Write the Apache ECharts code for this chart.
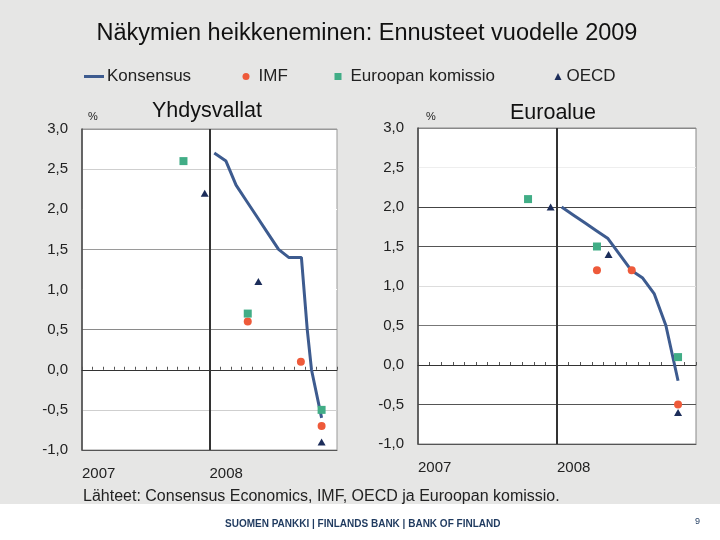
<!DOCTYPE html>
<html><head><meta charset="utf-8">
<script src="https://cdn.jsdelivr.net/npm/echarts@6/dist/echarts.min.js"></script>
<style>html,body{margin:0;padding:0;background:#e6e6e5}#c{width:720px;height:540px}</style>
</head><body><div id="c"></div>
<script>
// ---- text ----
const mainTitle = 'Näkymien heikkeneminen: Ennusteet vuodelle 2009';
const panelTitles = ['Yhdysvallat', 'Euroalue'];
const seriesNames = ['Konsensus', 'IMF', 'Euroopan komissio', 'OECD'];
const yearLabels = ['2007', '2008'];          // at month 0 and month 12
const sourceText = 'Lähteet: Consensus Economics, IMF, OECD ja Euroopan komissio.';
const footerText = 'SUOMEN PANKKI | FINLANDS BANK | BANK OF FINLAND';
const pageNumber = '9';

// ---- axes (x = months since Jan 2007) ----
const xMin = 0, xMax = 24, xYearStep = 12;
const yMin = -1, yMax = 3, yStep = 0.5;

// ---- data: [month, %] ----
const usConsensus = [[12.45,2.7],[13.55,2.6],[14.5,2.3],[15.5,2.1],[16.5,1.9],[17.5,1.7],[18.5,1.5],[19.45,1.4],[20.65,1.4],[21.2,0.5],[21.6,0.0],[22.55,-0.6]];
const usIMF  = [[15.6,0.6],[20.6,0.1],[22.55,-0.7]];
const usEC   = [[9.55,2.6],[15.6,0.7],[22.55,-0.5]];
const usOECD = [[11.55,2.2],[16.6,1.1],[22.55,-0.9]];

const euConsensus = [[12.4,2.0],[13.4,1.9],[14.4,1.8],[15.4,1.7],[16.4,1.6],[17.4,1.4],[18.4,1.2],[19.4,1.1],[20.4,0.9],[21.4,0.5],[22.45,-0.2]];
const euIMF  = [[15.45,1.2],[18.45,1.2],[22.45,-0.5]];
const euEC   = [[9.5,2.1],[15.45,1.5],[22.45,0.1]];
const euOECD = [[11.45,2.0],[16.45,1.4],[22.45,-0.6]];

const colLine = '#3d5b8f', colIMF = '#ee5a3a', colEC = '#41ad86', colOECD = '#1c2d5a';
const FONT = 'Liberation Sans, Arial, sans-serif';

const chart = echarts.init(document.getElementById('c'), null, {renderer: 'canvas'});

const fmtY = v => v.toFixed(1).replace('.', ',');
const fmtX = v => (v % xYearStep === 0 && yearLabels[v / xYearStep]) ? yearLabels[v / xYearStep] : '';

function xAxes(g) {
  return [
    {gridIndex: g, type: 'value', min: xMin, max: xMax, interval: xYearStep, position: 'bottom',
     axisLine: {onZero: false, lineStyle: {color: '#555', width: 1}}, axisTick: {show: false},
     splitLine: {show: false},
     axisLabel: {formatter: fmtX, align: 'left', margin: 16, fontSize: 15, color: '#222', fontFamily: FONT, showMaxLabel: false}},
    {gridIndex: g, type: 'value', min: xMin, max: xMax, interval: 1, position: 'bottom',
     axisLine: {onZero: true, lineStyle: {color: '#333', width: 1}},
     axisTick: {show: true, inside: true, length: 3, lineStyle: {color: '#555'}},
     axisLabel: {show: false}, splitLine: {show: false}}
  ];
}
function yAxis(g, lineColors) {
  return {gridIndex: g, type: 'value', min: yMin, max: yMax, interval: yStep,
    axisLine: {show: true, onZero: false, lineStyle: {color: '#444', width: 1.5}},
    axisTick: {show: false},
    axisLabel: {formatter: fmtY, margin: 14, fontSize: 15, color: '#222', fontFamily: FONT},
    splitLine: {show: true, lineStyle: {color: lineColors, width: 1}}};
}
function panelSeries(g, cons, imf, ec, oecd) {
  const xi = g * 2, yi = g;
  return [
    {name: seriesNames[0], type: 'line', xAxisIndex: xi, yAxisIndex: yi, data: cons, showSymbol: false,
     lineStyle: {color: colLine, width: 3}, itemStyle: {color: colLine}, z: 3,
     markLine: {silent: true, symbol: 'none', label: {show: false},
       lineStyle: {color: '#333', width: 2, type: 'solid'}, data: [{xAxis: xYearStep}]}},
    {name: seriesNames[1], type: 'scatter', xAxisIndex: xi, yAxisIndex: yi, data: imf, symbol: 'circle', symbolSize: 8, itemStyle: {color: colIMF, opacity: 1}, z: 4},
    {name: seriesNames[2], type: 'scatter', xAxisIndex: xi, yAxisIndex: yi, data: ec, symbol: 'rect', symbolSize: 8, itemStyle: {color: colEC, opacity: 1}, z: 4},
    {name: seriesNames[3], type: 'scatter', xAxisIndex: xi, yAxisIndex: yi, data: oecd, symbol: 'triangle', symbolSize: [8, 7], itemStyle: {color: colOECD, opacity: 1}, z: 4}
  ];
}

const legText = {fontSize: 17, color: '#222', fontFamily: FONT};
const legBase = {top: 68, padding: 0, itemStyle: {opacity: 1}};
const option = {
  backgroundColor: '#e6e6e5',
  animation: false,
  title: [
    {text: mainTitle, left: 362, top: 17, textAlign: 'center', textStyle: {fontSize: 23.5, fontWeight: 'normal', color: '#111', fontFamily: FONT}},
    {text: panelTitles[0], left: 202, top: 95, textAlign: 'center', textStyle: {fontSize: 21.5, fontWeight: 'normal', color: '#111', fontFamily: FONT}},
    {text: panelTitles[1], left: 548, top: 97, textAlign: 'center', textStyle: {fontSize: 21.5, fontWeight: 'normal', color: '#111', fontFamily: FONT}},
    {text: '%', left: 88, top: 106, textAlign: 'center', textStyle: {fontSize: 11, fontWeight: 'normal', color: '#222', fontFamily: FONT}},
    {text: '%', left: 426, top: 106, textAlign: 'center', textStyle: {fontSize: 11, fontWeight: 'normal', color: '#222', fontFamily: FONT}}
  ],
  legend: [
    Object.assign({data: [seriesNames[0]], left: 84, itemWidth: 20, itemHeight: 3, icon: 'rect', textStyle: Object.assign({padding: [0,0,0,-2]}, legText)}, legBase),
    Object.assign({data: [seriesNames[1]], left: 242.5, itemWidth: 7, itemHeight: 7, icon: 'circle', textStyle: Object.assign({padding: [0,0,0,4]}, legText)}, legBase),
    Object.assign({data: [seriesNames[2]], left: 334.5, itemWidth: 7, itemHeight: 7, icon: 'rect', textStyle: Object.assign({padding: [0,0,0,4]}, legText)}, legBase),
    Object.assign({data: [seriesNames[3]], left: 554.5, itemWidth: 7, itemHeight: 7, icon: 'triangle', textStyle: legText}, legBase)
  ],
  grid: [
    {left: 82, top: 129, width: 255, height: 321, show: true, backgroundColor: '#ffffff', borderColor: '#999', borderWidth: 1},
    {left: 418, top: 128, width: 278, height: 316, show: true, backgroundColor: '#ffffff', borderColor: '#888', borderWidth: 1}
  ],
  xAxis: xAxes(0).concat(xAxes(1)),
  yAxis: [
    yAxis(0, ['#555', '#cfcfcf', '#333', '#8a8a8a', '#ffffff', '#9a9a9a', '#ffffff', '#cfcfcf', '#999']),
    yAxis(1, ['#555', '#555', '#333', '#777', '#dddddd', '#555', '#444', '#eeeeee', '#888'])
  ],
  series: panelSeries(0, usConsensus, usIMF, usEC, usOECD).concat(panelSeries(1, euConsensus, euIMF, euEC, euOECD)),
  graphic: [
    {type: 'rect', left: 0, top: 504, shape: {width: 720, height: 36}, style: {fill: '#ffffff'}, silent: true},
    {type: 'text', left: 83, top: 489, style: {text: sourceText, fontSize: 16, fill: '#222', fontFamily: FONT}},
    {type: 'text', left: 225, top: 519, style: {text: footerText, fontSize: 10, fontWeight: 'bold', fill: '#1f3a5f', fontFamily: FONT}},
    {type: 'text', left: 695, top: 517, style: {text: pageNumber, fontSize: 9, fill: '#1f3a5f', fontFamily: FONT}}
  ]
};
chart.setOption(option);
</script>
</body></html>
